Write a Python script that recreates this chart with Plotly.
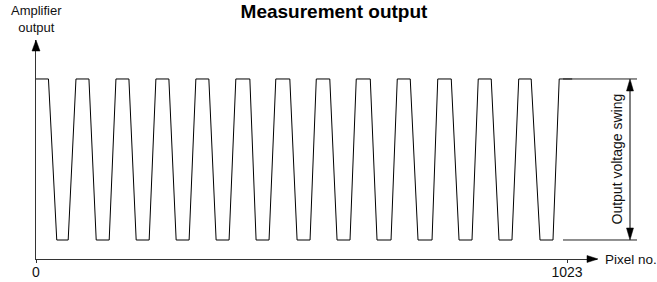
import plotly.graph_objects as go

# ---------------- data ----------------
HIGH = 1.0   # amplifier output, high level
LOW = 0.0    # amplifier output, low level
# pixel-number positions of the waveform breakpoints
top_start = [0, 77, 154, 231, 308, 385, 462, 540, 617, 696, 774, 852, 930, 1008]
top_end = [24, 102, 179, 256, 333, 412, 489, 566, 644, 721, 800, 877, 954, 1033]
low_start = [40, 116, 193, 270, 347, 424, 503, 580, 657, 736, 815, 892, 971]
low_end = [62, 141, 218, 295, 372, 449, 528, 605, 684, 763, 840, 917, 996]
x_tick_vals = [0, 1023]
x_tick_text = ["0", "1023"]

# ---------------- build the waveform ----------------
wx, wy = [], []
for i in range(len(low_start)):
    wx += [top_start[i], top_end[i], low_start[i], low_end[i]]
    wy += [HIGH, HIGH, LOW, LOW]
wx += [top_start[-1], top_end[-1]]
wy += [HIGH, HIGH]

# ---------------- layout geometry ----------------
W, H = 657, 282
L, R, T, B = 36, 597, 40, 259
X_RANGE = [0, (R - L) * 1023 / (567 - L)]
Y_RANGE = [-0.118, 1.242]
FONT = "Liberation Sans, Arial, sans-serif"
AX = "#333333"
TXT = "#111111"


def px_x(px):
    return (px - L) / (R - L)


def px_y(py):
    return (B - py) / (B - T)


def data_y(v):
    return (v - Y_RANGE[0]) / (Y_RANGE[1] - Y_RANGE[0])


def data_y_px(v):
    return B - data_y(v) * (B - T)


def tri(p1, p2, p3):
    pts = [p1, p2, p3]
    s = "M " + " L ".join(f"{px_x(a):.5f},{px_y(b):.5f}" for a, b in pts) + " Z"
    return dict(type="path", path=s, xref="paper", yref="paper",
                fillcolor="black", line=dict(color="black", width=0.5))


def seg(x0, y0, x1, y1, color="#222222", width=1):
    return dict(type="line", xref="paper", yref="paper",
                x0=px_x(x0), y0=px_y(y0), x1=px_x(x1), y1=px_y(y1),
                line=dict(color=color, width=width))


def label(text, x, y, xanchor="center", angle=0, size=14):
    return dict(text=text, xref="paper", yref="paper", x=px_x(x), y=px_y(y),
                xanchor=xanchor, yanchor="middle", textangle=angle,
                showarrow=False, align="center",
                font=dict(family=FONT, size=size, color=TXT))


yh = data_y_px(HIGH)
yl = data_y_px(LOW)
ARX = 630

shapes = [
    # axis arrowheads
    tri((598, B), (587, B - 3.5), (587, B + 3.5)),
    tri((L, 40), (L - 4, 51), (L + 4, 51)),
    # swing reference lines
    seg(563, yh, 637, yh),
    seg(563, yl, 637, yl),
    # double arrow
    seg(ARX, yh + 8, ARX, yl - 8, color="black", width=1),
    tri((ARX, yh), (ARX - 3.5, yh + 12), (ARX + 3.5, yh + 12)),
    tri((ARX, yl), (ARX - 3.5, yl - 12), (ARX + 3.5, yl - 12)),
]

annotations = [
    label("Amplifier<br>output", L, 19.5, size=13),
    label("Pixel no.", 603, B, xanchor="left", size=13.5),
    label("Output voltage swing", 617, (yh + yl) / 2, angle=-90),
]

fig = go.Figure()
fig.add_trace(go.Scatter(x=wx, y=wy, mode="lines",
                         line=dict(color="black", width=1),
                         hoverinfo="skip", showlegend=False))

fig.update_layout(
    width=W, height=H,
    margin=dict(l=L, r=W - R, t=T, b=H - B, pad=0, autoexpand=False),
    paper_bgcolor="white", plot_bgcolor="white",
    title=dict(text="<b>Measurement output</b>", x=334 / W, y=1 - 11 / H,
               xref="container", yref="container",
               xanchor="center", yanchor="middle",
               font=dict(family=FONT, size=19, color="black")),
    xaxis=dict(range=X_RANGE, showgrid=False, zeroline=False, automargin=False,
               showline=True, linecolor=AX, linewidth=1.3,
               tickmode="array", tickvals=x_tick_vals, ticktext=x_tick_text,
               ticks="outside", ticklen=3, tickcolor=AX, tickwidth=1,
               ticklabelstandoff=-3,
               tickfont=dict(family=FONT, size=14, color=TXT),
               fixedrange=True),
    yaxis=dict(range=Y_RANGE, showgrid=False, zeroline=False, automargin=False,
               showline=True, linecolor=AX, linewidth=1.3,
               showticklabels=False, ticks="", fixedrange=True),
    shapes=shapes,
    annotations=annotations,
)

fig.write_html(
    "out.html",
    config={"displayModeBar": False},
    post_script="document.body.style.margin='0';document.body.style.padding='0';",
)
